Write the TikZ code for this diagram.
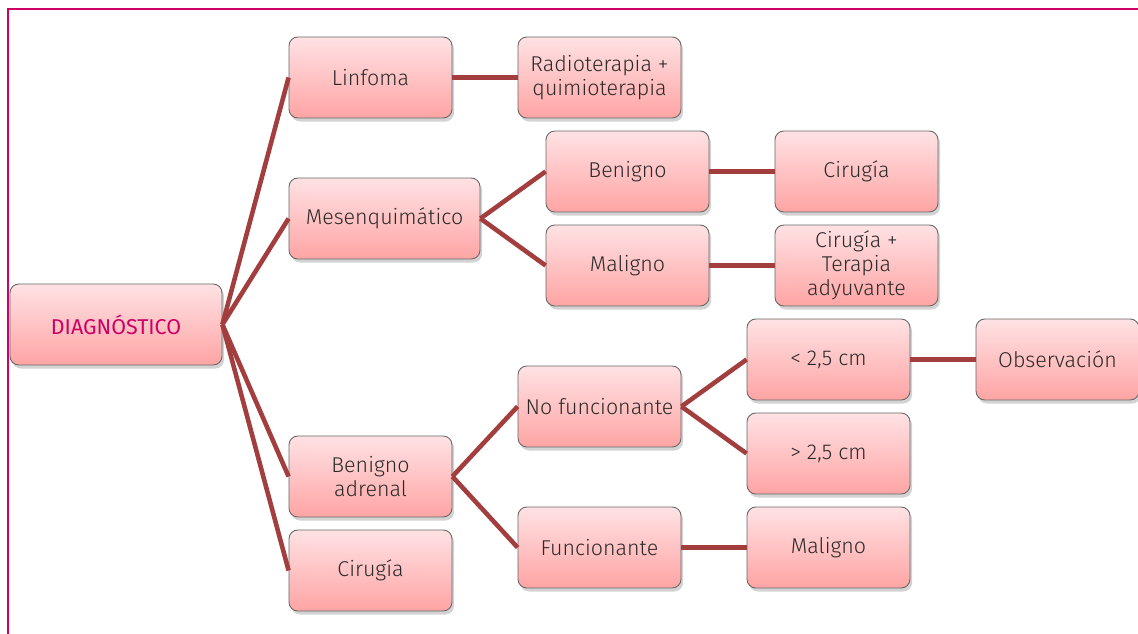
\documentclass[tikz,border=0pt]{standalone}
\usepackage{fontspec}
\setmainfont{Fira Sans Light}
\newfontfamily\rootfont{Fira Sans}
\usepackage{tikz}
\usetikzlibrary{positioning, shadows, calc}
\usepackage{xcolor}
\definecolor{framemag}{HTML}{CC0066}
\definecolor{linkred}{HTML}{A33E3E}
\definecolor{boxtop}{HTML}{FFE2E4}
\definecolor{boxbot}{HTML}{FFA4A4}
\definecolor{txtgray}{HTML}{2A2A2A}
\tikzstyle{box} = [rectangle, rounded corners=5pt, draw=black!60, line width=0.5pt,
  top color=boxtop, bottom color=boxbot, text=txtgray, align=center,
  minimum width=3.26cm, minimum height=1.62cm, inner sep=2pt,
  drop shadow={shadow xshift=1.2pt, shadow yshift=-2pt, opacity=0.35}]
\tikzstyle{link} = [line width=2.6pt, draw=linkred]

\begin{document}
\begin{tikzpicture}[x=0.02cm, y=-0.02cm, every node/.style={font=\fontsize{12.2}{13.6}\selectfont}]
  \useasboundingbox (0,0) rectangle (1138,634);
  % Frame
  \begin{scope}
    \clip (0,0) rectangle (1138,634);
    \draw[framemag, line width=1.2pt] (8,9) rectangle (1150,650);
  \end{scope}

  % Root
  \node[box, minimum width=4.24cm, text=framemag, font=\rootfont\fontsize{12.2}{13.6}\selectfont] (diag) at (116,324.5) {DIAGNÓSTICO};

  % First level
  \node[box] (linf) at (370.5,77.5) {Linfoma};
  \node[box, minimum width=3.82cm] (mesen) at (384.5,218.5) {Mesenquimático};
  \node[box] (benad) at (370.5,476.5) {Benigno\\adrenal};
  \node[box] (cirA) at (370.5,570.5) {Cirugía};

  % Second level
  \node[box] (radio) at (599.5,77.5) {Radioterapia +\\quimioterapia};
  \node[box] (ben) at (627.5,171.5) {Benigno};
  \node[box] (mal) at (627.5,265.5) {Maligno};
  \node[box] (nofun) at (599.5,406.5) {No funcionante};
  \node[box] (fun) at (599.5,547.5) {Funcionante};

  % Third level
  \node[box] (cirB) at (856.5,171.5) {Cirugía};
  \node[box] (cirter) at (856.5,265.5) {Cirugía +\\Terapia\\adyuvante};
  \node[box] (menor) at (828.5,359.5) {< 2,5 cm};
  \node[box] (mayor) at (828.5,453.5) {> 2,5 cm};
  \node[box] (malB) at (828.5,547.5) {Maligno};

  % Fourth level
  \node[box] (obs) at (1057.5,359.5) {Observación};

  % Connectors
  \draw[link] (diag.east) -- (linf.west);
  \draw[link] (diag.east) -- (mesen.west);
  \draw[link] (diag.east) -- (benad.west);
  \draw[link] (diag.east) -- (cirA.west);
  \draw[link] (linf.east) -- (radio.west);
  \draw[link] (mesen.east) -- (ben.west);
  \draw[link] (mesen.east) -- (mal.west);
  \draw[link] (ben.east) -- (cirB.west);
  \draw[link] (mal.east) -- (cirter.west);
  \draw[link] (benad.east) -- (nofun.west);
  \draw[link] (benad.east) -- (fun.west);
  \draw[link] (nofun.east) -- (menor.west);
  \draw[link] (nofun.east) -- (mayor.west);
  \draw[link] (menor.east) -- (obs.west);
  \draw[link] (fun.east) -- (malB.west);
\end{tikzpicture}
\end{document}
